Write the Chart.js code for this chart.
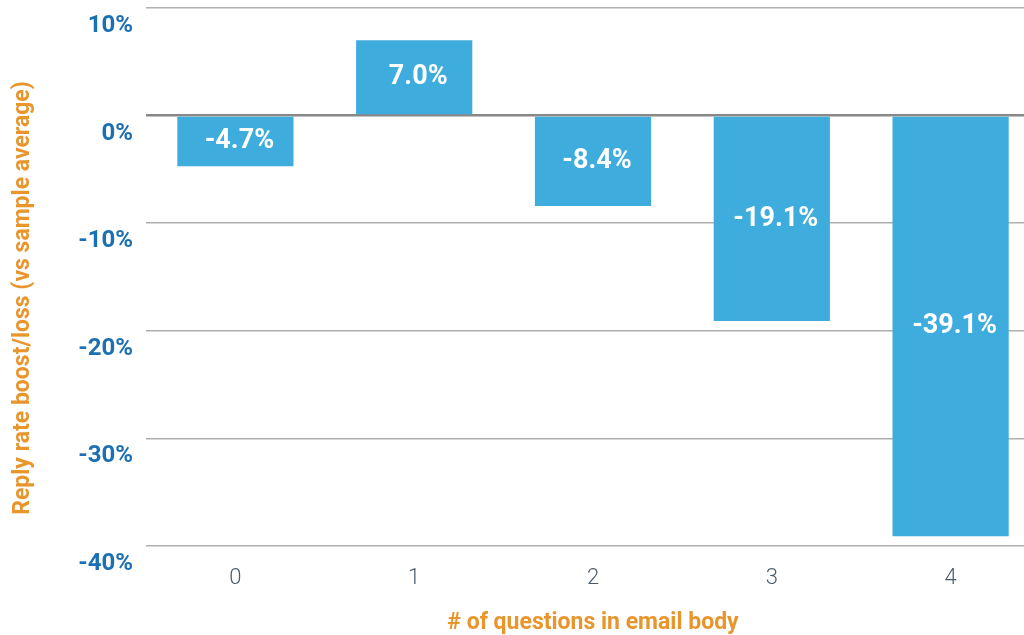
<!DOCTYPE html>
<html>
<head>
<meta charset="utf-8">
<script src="https://cdn.jsdelivr.net/npm/chart.js@4/dist/chart.umd.min.js"></script>
<style>
  html, body { margin: 0; padding: 0; background: #fff; overflow: hidden; }
  #wrap { width: 1024px; height: 635px; overflow: hidden; }
</style>
</head>
<body>
<div id="wrap"><canvas id="chart" width="1050" height="635"></canvas></div>
<script>
const categories = ['0', '1', '2', '3', '4'];
const replyBoost = [-4.7, 7.0, -8.4, -19.1, -39.1];
const yTicks = [10, 0, -10, -20, -30, -40];
const yTitle = 'Reply rate boost/loss (vs sample average)';
const xTitle = '# of questions in email body';

const barColor = '#3eaddd';
const orange = '#e8952c';
const tickBlue = '#1b70b3';

// white value labels centered in each bar
const barLabels = {
    id: 'barLabels',
    afterDatasetsDraw(chart) {
        const ctx = chart.ctx;
        const meta = chart.getDatasetMeta(0);
        ctx.save();
        ctx.fillStyle = '#fff';
        ctx.font = 'bold 27px Roboto';
        ctx.textAlign = 'center';
        ctx.textBaseline = 'middle';
        meta.data.forEach((bar, i) => {
            const v = replyBoost[i];
            const mid = (bar.y + bar.base) / 2;
            ctx.fillText(v.toFixed(1) + '%', bar.x + 4, mid);
        });
        ctx.restore();
    }
};

// y title drawn by hand so it can sit a bit lower than the axis middle
const yTitlePlugin = {
    id: 'yTitlePlugin',
    afterDraw(chart) {
        const ctx = chart.ctx;
        const area = chart.chartArea;
        ctx.save();
        ctx.translate(23, (area.top + area.bottom) / 2 + 21);
        ctx.rotate(-Math.PI / 2);
        ctx.fillStyle = orange;
        ctx.font = 'bold 23px Roboto';
        ctx.textAlign = 'center';
        ctx.textBaseline = 'middle';
        ctx.fillText(yTitle, 0, 0);
        ctx.restore();
    }
};

new Chart(document.getElementById('chart'), {
    type: 'bar',
    data: {
        labels: categories,
        datasets: [{
            data: replyBoost,
            backgroundColor: barColor,
            barPercentage: 0.65,
            categoryPercentage: 1
        }]
    },
    options: {
        responsive: false,
        animation: false,
        layout: { padding: { left: 10, right: 10, top: 8, bottom: 0 } },
        plugins: { legend: { display: false }, tooltip: { enabled: false } },
        scales: {
            x: {
                grid: { display: false },
                border: { display: false },
                ticks: { color: '#4a5c6c', font: { family: 'Roboto', size: 22, weight: '300' }, padding: 11 },
                title: {
                    display: true,
                    text: xTitle,
                    color: orange,
                    font: { family: 'Roboto', size: 23, weight: 'bold', lineHeight: 1.05 },
                    padding: 0
                },
                afterFit(scale) { scale.height = 89; }
            },
            y: {
                min: -40,
                max: 10,
                afterBuildTicks(scale) { scale.ticks = yTicks.map(v => ({ value: v })); },
                grid: {
                    drawTicks: false,
                    color: ctx => ctx.tick && ctx.tick.value === 0 ? '#888' : '#b0b0b0',
                    lineWidth: ctx => ctx.tick && ctx.tick.value === 0 ? 2.5 : 1.5
                },
                border: { display: false },
                ticks: {
                    color: tickBlue,
                    font: { family: 'Roboto', size: 24, weight: 'bold' },
                    padding: 13,
                    labelOffset: 18,
                    callback: v => v + '%'
                },
                afterFit(scale) {
                    scale.width = 136;
                    scale.paddingTop = 0;
                    scale.paddingBottom = 0;
                }
            }
        }
    },
    plugins: [barLabels, yTitlePlugin]
});
</script>
</body>
</html>
